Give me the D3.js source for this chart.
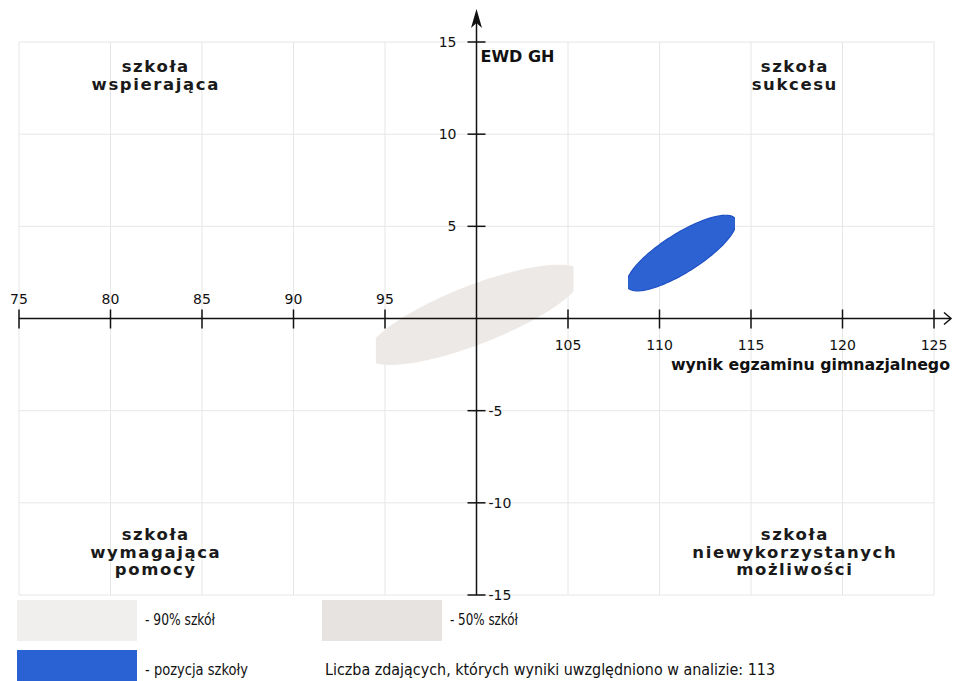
<!DOCTYPE html>
<html><head><meta charset="utf-8">
<script src="https://cdn.jsdelivr.net/npm/d3@7"></script>
<style>body{margin:0;background:#fff}svg{display:block}</style>
</head><body><svg id="c" width="954" height="681"></svg>
<script>
// ---- data ----
const xTicks = [75, 80, 85, 90, 95, 100, 105, 110, 115, 120, 125];
const xTickLabels = ["75", "80", "85", "90", "95", "", "105", "110", "115", "120", "125"];
const yTicks = [-15, -10, -5, 0, 5, 10, 15];
const yTickLabels = ["-15", "-10", "-5", "", "5", "10", "15"];
const xTitle = "wynik egzaminu gimnazjalnego";
const yTitle = "EWD GH";
const quadrantTexts = [
  ["szkoła", "wspierająca"],
  ["szkoła", "sukcesu"],
  ["szkoła", "wymagająca", "pomocy"],
  ["szkoła", "niewykorzystanych", "możliwości"]
];
// ellipses: centre, half-extent along x, slope of main axis, half-height at centre, x-range
const ellipseNames = ["50% szkół", "pozycja szkoły"];
const ellipseCx = [99.9, 111.2];
const ellipseCy = [0.2, 3.55];
const ellipseHalfX = [5.9, 3.0];
const ellipseSlope = [0.36, 0.55];
const ellipseHalfY = [1.7, 1.22];
const ellipseXMin = [94.5, 108.28];
const ellipseXMax = [105.3, 114.13];
const legendLabels = ["- 90% szkół", "- 50% szkół", "- pozycja szkoły"];
const studentCount = 113;

// ---- layout ----
const svg = d3.select("#c");
const x = d3.scaleLinear().domain([75, 125]).range([19, 934]);
const y = d3.scaleLinear().domain([-15, 15]).range([595, 42]);
const x0 = x(100), y0 = y(0);

// grid
const grid = svg.append("g").attr("stroke", "#e6e6e6").attr("stroke-width", 1);
grid.selectAll("line.v").data(xTicks).join("line")
  .attr("x1", d => x(d)).attr("x2", d => x(d)).attr("y1", y(15)).attr("y2", y(-15));
grid.selectAll("line.h").data(yTicks).join("line")
  .attr("y1", d => y(d)).attr("y2", d => y(d)).attr("x1", x(75)).attr("x2", x(125));

// ellipses
const ellColors = ["#ede9e6", "#2c62d2"];
const ellStroke = ["none", "#1f50c4"];
const line = d3.line().x(d => x(d[0])).y(d => y(d[1])).curve(d3.curveLinearClosed);
ellipseNames.forEach((n, i) => {
  const pts = d3.range(0, 360, 2).map(a => {
    const t = a * Math.PI / 180;
    const dx = ellipseHalfX[i] * Math.cos(t);
    return [ellipseCx[i] + dx, ellipseCy[i] + ellipseSlope[i] * dx + ellipseHalfY[i] * Math.sin(t)];
  });
  const cid = "clip" + i;
  svg.append("clipPath").attr("id", cid).append("rect")
    .attr("x", x(ellipseXMin[i])).attr("width", x(ellipseXMax[i]) - x(ellipseXMin[i]))
    .attr("y", 0).attr("height", 681);
  svg.append("path").datum(pts).attr("d", line)
    .attr("fill", ellColors[i]).attr("stroke", ellStroke[i]).attr("stroke-width", 1.2)
    .attr("clip-path", `url(#${cid})`);
});

// axes
const ax = svg.append("g").attr("stroke", "#111").attr("stroke-width", 1.5).attr("fill", "none");
ax.append("line").attr("x1", x(75)).attr("x2", 951).attr("y1", y0).attr("y2", y0);
ax.append("path").attr("d", `M944,${y0 - 6}L951,${y0}L944,${y0 + 6}`);
ax.append("line").attr("x1", x0).attr("x2", x0).attr("y1", y(-15)).attr("y2", 16);
svg.append("path").attr("fill", "#111")
  .attr("d", `M${x0},9L${x0 + 5.5},28L${x0},23L${x0 - 5.5},28Z`);
ax.selectAll("line.xt").data(xTicks.filter(d => d !== 100)).join("line")
  .attr("x1", d => x(d)).attr("x2", d => x(d)).attr("y1", y0 - 9).attr("y2", y0 + 10);
ax.selectAll("line.yt").data(yTicks.filter(d => d !== 0)).join("line")
  .attr("y1", d => y(d)).attr("y2", d => y(d)).attr("x1", x0 - 9).attr("x2", x0 + 9);

const tl = svg.append("g").attr("font-family", "DejaVu Sans, sans-serif").attr("font-size", 14).attr("fill", "#111");
xTicks.forEach((v, i) => {
  if (!xTickLabels[i]) return;
  tl.append("text").attr("x", x(v)).attr("y", v < 100 ? y0 - 15 : y0 + 31)
    .attr("text-anchor", "middle").text(xTickLabels[i]);
});
yTicks.forEach((v, i) => {
  if (!yTickLabels[i]) return;
  tl.append("text").attr("x", v > 0 ? x0 - 20 : x0 + 12).attr("y", y(v) + 5)
    .attr("text-anchor", v > 0 ? "end" : "start").text(yTickLabels[i]);
});

// titles
svg.append("text").attr("x", 950).attr("y", 370).attr("text-anchor", "end")
  .attr("font-family", "DejaVu Sans, sans-serif").attr("font-weight", "bold").attr("font-size", 15)
  .attr("textLength", 279).attr("lengthAdjust", "spacingAndGlyphs").attr("fill", "#111").text(xTitle);
svg.append("text").attr("x", x0 + 4).attr("y", 62)
  .attr("font-family", "DejaVu Sans, sans-serif").attr("font-weight", "bold").attr("font-size", 16)
  .attr("fill", "#111").text(yTitle);

// quadrant labels
const qx = [x(82.43), x(117.35), x(82.43), x(117.35)];
const qy = [72, 72, 540, 540];
quadrantTexts.forEach((lines, i) => {
  const t = svg.append("text").attr("text-anchor", "middle")
    .attr("font-family", "DejaVu Sans, sans-serif").attr("font-weight", "bold").attr("font-size", 16.5)
    .attr("letter-spacing", "1.6px").attr("fill", "#1a1a1a");
  lines.forEach((s, j) => {
    t.append("tspan").attr("x", qx[i] + 0.8).attr("y", qy[i] + j * 17.5).text(s);
  });
});

// legend
const lg = svg.append("g");
const swX = [17, 322, 17], swY = [600, 600, 650];
const swC = ["#f1efed", "#e6e3e1", "#2b62d3"];
const txW = [70, 68, 103];
legendLabels.forEach((s, i) => {
  lg.append("rect").attr("x", swX[i]).attr("y", swY[i]).attr("width", 120).attr("height", i === 2 ? 34 : 41)
    .attr("fill", swC[i]);
  lg.append("text").attr("x", swX[i] + 128).attr("y", swY[i] + 25)
    .attr("font-family", "Liberation Sans Narrow, DejaVu Sans Condensed, sans-serif").attr("font-size", 15)
    .attr("textLength", txW[i]).attr("lengthAdjust", "spacingAndGlyphs").attr("fill", "#111").text(s);
});
lg.append("text").attr("x", 325).attr("y", 675)
  .attr("font-family", "Liberation Sans Narrow, DejaVu Sans Condensed, sans-serif").attr("font-size", 15)
  .attr("textLength", 450).attr("lengthAdjust", "spacingAndGlyphs").attr("fill", "#111")
  .text("Liczba zdających, których wyniki uwzględniono w analizie: " + studentCount);
</script></body></html>
